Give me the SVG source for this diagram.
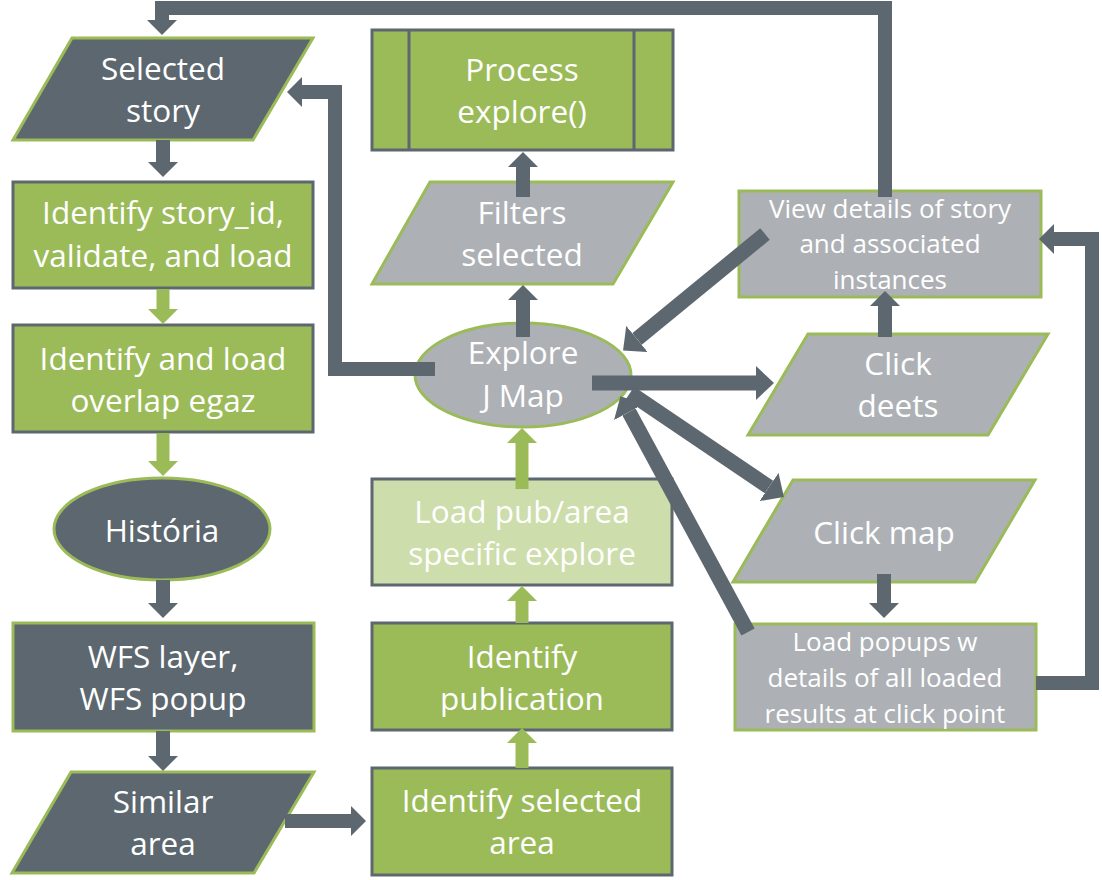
<svg xmlns="http://www.w3.org/2000/svg" width="1102" height="880" viewBox="0 0 1102 880">
<defs>
<style>
.dk{fill:#5C676F;stroke:#9BBB59;stroke-width:3}
.gr{fill:#9BBB59;stroke:#5C676F;stroke-width:3}
.lg{fill:#CDDDAC;stroke:#5C676F;stroke-width:3}
.gy{fill:#ADB1B5;stroke:#9BBB59;stroke-width:3}
.t{font-family:"Open Sans","Noto Sans",sans-serif;font-size:31.5px;fill:#FFFFFF;text-anchor:middle}
.ts{font-family:"Open Sans","Noto Sans",sans-serif;font-size:26px;fill:#FFFFFF;text-anchor:middle}
.cd{fill:none;stroke:#5C676F;stroke-width:14;marker-end:url(#ad)}
.cdd{fill:none;stroke:#5C676F;stroke-width:15;marker-end:url(#ad2)}
.cg{fill:none;stroke:#9BBB59;stroke-width:13;marker-end:url(#ag)}
</style>
<marker id="ad" viewBox="0 0 15 30" refX="0" refY="15" markerWidth="15" markerHeight="30" markerUnits="userSpaceOnUse" orient="auto"><path d="M0,0 L15,15 L0,30 Z" fill="#5C676F"/></marker>
<marker id="ad2" viewBox="0 0 18 34" refX="0" refY="17" markerWidth="18" markerHeight="34" markerUnits="userSpaceOnUse" orient="auto"><path d="M0,0 L18,17 L0,34 Z" fill="#5C676F"/></marker>
<marker id="ag" viewBox="0 0 15 30" refX="0" refY="15" markerWidth="15" markerHeight="30" markerUnits="userSpaceOnUse" orient="auto"><path d="M0,0 L15,15 L0,30 Z" fill="#9BBB59"/></marker>
</defs>
<rect width="1102" height="880" fill="#FFFFFF"/>

<g id="selected-story">
<polygon class="dk" points="72,38 313,38 253,140 13,140"/>
<text class="t" x="163" y="80">Selected</text>
<text class="t" x="163" y="122">story</text>
</g>
<g id="identify-story">
<rect class="gr" x="13" y="182" width="300" height="106"/>
<text class="t" x="163" y="224">Identify story_id,</text>
<text class="t" x="163" y="267">validate, and load</text>
</g>
<g id="overlap-egaz">
<rect class="gr" x="13" y="325" width="300" height="107"/>
<text class="t" x="163" y="370">Identify and load</text>
<text class="t" x="163" y="412">overlap egaz</text>
</g>
<g id="historia">
<ellipse class="dk" cx="162" cy="529" rx="108" ry="51"/>
<text class="t" x="162" y="542">História</text>
</g>
<g id="wfs">
<rect class="dk" x="13" y="623" width="301" height="108"/>
<text class="t" x="163" y="668">WFS layer,</text>
<text class="t" x="163" y="710">WFS popup</text>
</g>
<g id="similar-area">
<polygon class="dk" points="71,772 314,772 254,873 12,873"/>
<text class="t" x="163" y="813">Similar</text>
<text class="t" x="163" y="855">area</text>
</g>
<g id="identify-selected-area">
<rect class="gr" x="372" y="768" width="300" height="107"/>
<text class="t" x="522" y="812">Identify selected</text>
<text class="t" x="522" y="854">area</text>
</g>
<g id="identify-publication">
<rect class="gr" x="372" y="623" width="300" height="107"/>
<text class="t" x="522" y="668">Identify</text>
<text class="t" x="522" y="710">publication</text>
</g>
<g id="load-pub">
<rect class="lg" x="372" y="479" width="300" height="106"/>
<text class="t" x="522" y="523">Load pub/area</text>
<text class="t" x="522" y="565">specific explore</text>
</g>
<g id="explore-map">
<ellipse class="gy" cx="523" cy="375" rx="108" ry="52"/>
<text class="t" x="523" y="364">Explore</text>
<text class="t" x="523" y="407">J Map</text>
</g>
<g id="filters-selected">
<polygon class="gy" points="430,182 673,182 613,284 372,284"/>
<text class="t" x="522" y="224">Filters</text>
<text class="t" x="522" y="266">selected</text>
</g>
<g id="process-explore">
<rect class="gr" x="372" y="30" width="301" height="120"/>
<line x1="409" y1="30" x2="409" y2="150" stroke="#5C676F" stroke-width="3"/>
<line x1="634" y1="30" x2="634" y2="150" stroke="#5C676F" stroke-width="3"/>
<text class="t" x="522" y="81">Process</text>
<text class="t" x="522" y="123">explore()</text>
</g>
<g id="view-details">
<rect class="gy" x="739" y="191" width="302" height="106"/>
<text class="ts" x="890" y="218">View details of story</text>
<text class="ts" x="890" y="253">and associated</text>
<text class="ts" x="890" y="289">instances</text>
</g>
<g id="click-deets">
<polygon class="gy" points="808,334 1048,334 988,435 748,435"/>
<text class="t" x="898" y="375">Click</text>
<text class="t" x="898" y="417">deets</text>
</g>
<g id="click-map">
<polygon class="gy" points="793,480 1035,480 975,582 733,582"/>
<text class="t" x="884" y="544">Click map</text>
</g>
<g id="load-popups">
<rect class="gy" x="735" y="624" width="301" height="106"/>
<text class="ts" x="885" y="651">Load popups w</text>
<text class="ts" x="885" y="687">details of all loaded</text>
<text class="ts" x="885" y="723">results at click point</text>
</g>

<g id="connectors">
<path class="cd" d="M163,140 L163,162"/>
<path class="cg" d="M163,289 L163,309"/>
<path class="cg" d="M163,433 L163,461"/>
<path class="cd" d="M163,580 L163,603"/>
<path class="cd" d="M163,731 L163,756"/>
<path class="cd" d="M285,821 L351,821"/>
<path class="cg" d="M522,768 L522,743"/>
<path class="cg" d="M522,623 L522,601"/>
<path class="cg" d="M522,489 L522,443"/>
<path class="cd" d="M523,337 L523,300"/>
<path class="cd" d="M523,197 L523,167"/>
<path class="cd" d="M435,369 L335,369 L335,92 L302,92"/>
<path class="cd" d="M885,197 L885,8 L162,8 L162,20"/>
<path class="cd" d="M885,337 L885,306"/>
<path class="cd" d="M884,574 L884,603"/>
<path class="cd" d="M1036,683 L1092,683 L1092,239 L1054,239"/>
<path class="cdd" d="M592,383 L756,383"/>
<path class="cdd" d="M765,234 L637,339"/>
<path class="cdd" d="M630,393 L769,487"/>
<path class="cdd" d="M748,632 L629,412"/>
</g>
</svg>
